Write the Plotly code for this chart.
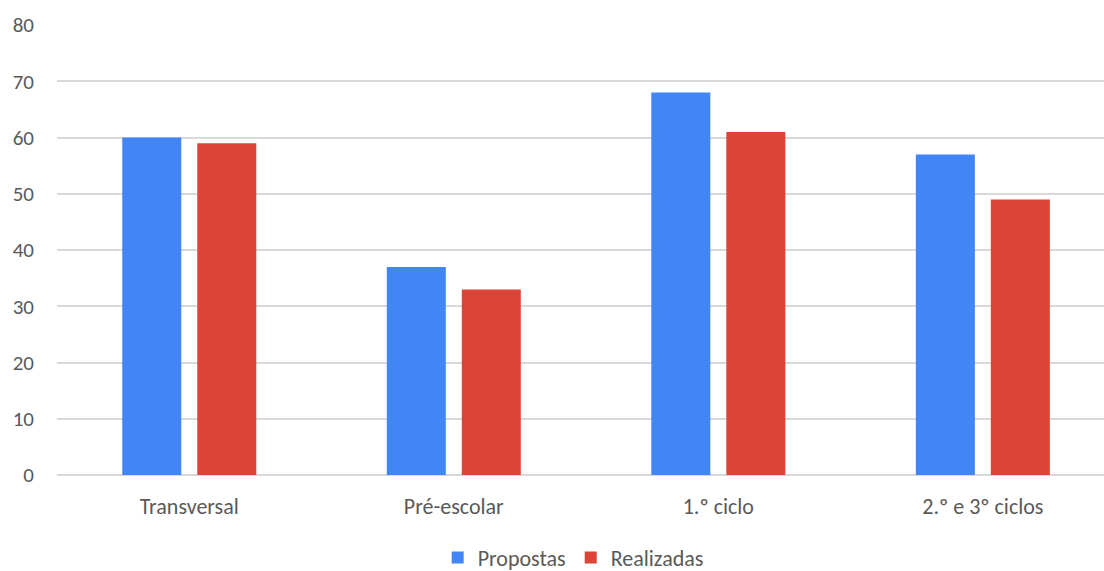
import plotly.graph_objects as go

categories = ["Transversal", "Pré-escolar", "1.º ciclo", "2.º e 3º ciclos"]
propostas = [60, 37, 68, 57]
realizadas = [59, 33, 61, 49]

font_family = "Carlito, Calibri, Lato, 'Open Sans', sans-serif"
text_color = "#595959"

fig = go.Figure()
fig.add_trace(go.Bar(name="Propostas", x=categories, y=propostas,
                     marker=dict(color="#4285F4", line=dict(width=0))))
fig.add_trace(go.Bar(name="Realizadas", x=categories, y=realizadas,
                     marker=dict(color="#DB4437", line=dict(width=0))))

fig.update_layout(
    width=1104, height=571,
    paper_bgcolor="white", plot_bgcolor="white",
    margin=dict(l=57, r=0, t=25, b=96, autoexpand=False),
    barmode="group", bargap=0.433, bargroupgap=0.213,
    font=dict(family=font_family, size=21, color=text_color),
    legend=dict(orientation="h", x=0.493, xanchor="center", y=-0.184, yanchor="middle",
                font=dict(size=22, color=text_color), itemwidth=30,
                traceorder="normal"),
    xaxis=dict(showgrid=False, showline=False, ticks="", tickfont=dict(size=22),
               range=[-0.5, 3.458], ticklabelstandoff=16),
    yaxis=dict(range=[0, 80], dtick=10, showgrid=True, gridcolor="#d9d9d9",
               gridwidth=1.5, zeroline=True, zerolinecolor="#d9d9d9", zerolinewidth=1.5,
               showline=False, ticks="", ticklabelstandoff=22, tickfont=dict(size=21)),
)

fig.write_html("out.html")
